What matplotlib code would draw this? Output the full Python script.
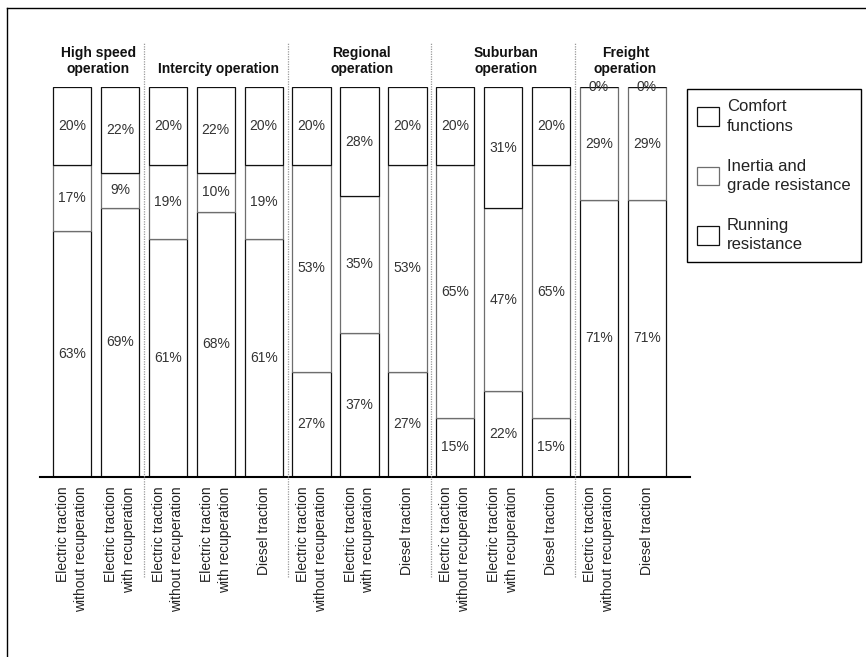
import matplotlib
matplotlib.use("Agg")
import matplotlib.pyplot as plt
from matplotlib.lines import Line2D
from matplotlib.transforms import blended_transform_factory
import numpy as np

plt.rcParams['font.family'] = ['Liberation Sans', 'DejaVu Sans']

# Operation types and how many traction variants each has
groups = ["High speed\noperation", "Intercity operation", "Regional\noperation",
          "Suburban\noperation", "Freight\noperation"]
group_sizes = [2, 3, 3, 3, 2]

# Traction variant of every bar, left to right
traction = [
    "Electric traction\nwithout recuperation", "Electric traction\nwith recuperation",
    "Electric traction\nwithout recuperation", "Electric traction\nwith recuperation",
    "Diesel traction",
    "Electric traction\nwithout recuperation", "Electric traction\nwith recuperation",
    "Diesel traction",
    "Electric traction\nwithout recuperation", "Electric traction\nwith recuperation",
    "Diesel traction",
    "Electric traction\nwithout recuperation", "Diesel traction",
]

# Share of energy demand (%) per bar
comfort = [20, 22, 20, 22, 20, 20, 28, 20, 20, 31, 20, 0, 0]
inertia = [17, 9, 19, 10, 19, 53, 35, 53, 65, 47, 65, 29, 29]
running = [63, 69, 61, 68, 61, 27, 37, 27, 15, 22, 15, 71, 71]

series_names = ["Comfort\nfunctions", "Inertia and\ngrade resistance", "Running\nresistance"]

W, H = 866, 657
fig = plt.figure(figsize=(W / 100, H / 100), dpi=100)
ax = fig.add_axes([40 / W, 1 - 476.7 / H, 650 / W, (476.7 - 87.3) / H])

x = np.arange(len(running))
run = np.array(running)
ine = np.array(inertia)
com = np.array(comfort)

bw = 0.8
b_run = ax.bar(x, run, bw, color='white', edgecolor='#111111', linewidth=0.9)
b_ine = ax.bar(x, ine, bw, bottom=run, color='white', edgecolor='#6e6e6e', linewidth=0.9)
b_com = ax.bar(x, com, bw, bottom=run + ine, color='white', edgecolor='#111111', linewidth=0.9)

# Percentage labels at the middle of every segment
for vals, base in ((run, np.zeros_like(run)), (ine, run), (com, run + ine)):
    for xi, v, b in zip(x, vals, base):
        ax.text(xi, b + v / 2, f"{v}%", ha='center', va='center',
                fontsize=10, color='#333333')

ax.set_xlim(-0.67, 12.9)
ax.set_ylim(0, 100)
for s in ('top', 'left', 'right'):
    ax.spines[s].set_visible(False)
ax.spines['bottom'].set_linewidth(1.5)
ax.spines['bottom'].set_color('black')
ax.set_yticks([])
ax.set_xticks(x, traction, rotation=90, fontsize=10, color='#222222',
              multialignment='right', linespacing=1.35)
ax.tick_params(axis='x', length=0, pad=7)

# Group separators and titles
trans = blended_transform_factory(ax.transData, fig.transFigure)
starts = np.cumsum([0] + group_sizes[:-1])
for i, (g, st, n) in enumerate(zip(groups, starts, group_sizes)):
    ax.text(st + (n - 1) / 2 + 0.05, 1 - 76 / H, g, transform=trans,
            ha='center', va='bottom', fontsize=10, fontweight='bold',
            color='#111111', multialignment='center')
    if i > 0:
        xs = st - 0.5
        fig.add_artist(Line2D([xs, xs], [1 - 577 / H, 1 - 43 / H], transform=trans,
                              color='#9a9a9a', linewidth=0.9, linestyle=(0, (1, 1))))

# Outer frame lines
fig.add_artist(Line2D([7 / W, 1], [1 - 8 / H, 1 - 8 / H], color='black', linewidth=1))
fig.add_artist(Line2D([7 / W, 7 / W], [0, 1 - 8 / H], color='black', linewidth=1))

leg = fig.legend(handles=[b_com, b_ine, b_run], labels=series_names,
                 loc='upper left', bbox_to_anchor=(687 / W, 1 - 89 / H),
                 bbox_transform=fig.transFigure, borderaxespad=0, fontsize=12,
                 frameon=True, fancybox=False, edgecolor='black', framealpha=1,
                 borderpad=0.62, labelspacing=1.5, handlelength=1.32,
                 handleheight=1.36, handletextpad=0.45)
leg.get_frame().set_linewidth(1.0)
for t in leg.get_texts():
    t.set_color('#222222')
    t.set_linespacing(1.35)

fig.savefig("out.png", dpi=100)
